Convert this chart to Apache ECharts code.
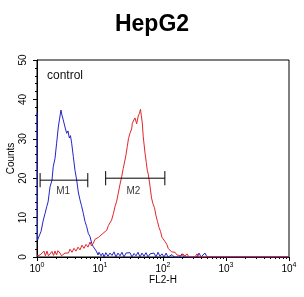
<!DOCTYPE html>
<html><head><meta charset="utf-8">
<script src="https://cdn.jsdelivr.net/npm/echarts@6/dist/echarts.min.js"></script>
<style>html,body{margin:0;padding:0;background:#fff}#c{width:304px;height:297px}</style>
</head><body><div id="c"></div>
<script>
// FL2-H channel values and counts
const blueX = [1.00,1.02,1.08,1.16,1.26,1.34,1.43,1.50,1.61,1.73,1.81,1.93,2.05,2.18,2.28,2.40,2.49,2.61,2.78,2.96,3.10,3.26,3.40,3.55,3.77,4.01,4.27,4.52,4.81,5.09,5.43,5.78,6.15,6.52,6.94,7.38,7.83,8.33,8.87,9.30,
  9.64,10.4,11.0,11.6,12.4,13.4,14.4,15.5,16.7,17.9,19.3,20.8,22.3,24.0,25.9,27.8,29.9,32.2,34.7,37.3,40.1,43.2,46.4,49.9,53.7,57.8,62.2,66.9,72.0,77.4,83.3,89.6,96.4,104,112,120,139,150,186,200,215,347,373,401,464,499,10000];
const blueY = [36.5,4.3,4.0,6.5,9.4,11.0,12.8,14.0,17.8,19.5,22.9,25.0,28.9,33.0,35.0,37.3,36.0,34.8,33.0,31.4,32.0,30.2,30.8,28.9,25.5,22.0,19.5,16.5,14.5,13.0,11.1,9.0,7.7,6.0,5.2,3.5,2.6,2.0,1.3,0.5,
  1.2,0.3,1.0,0,1.1,0.2,1.0,0.4,1.3,0,1.0,0.3,1.2,0,1.0,0.5,1.1,0,0.9,0.3,1.2,0,1.0,0.2,1.1,0,0.8,0.3,1.0,0,1.2,0.2,0.8,0,1.0,0,0.6,0,0,0.8,0,0,1.0,0,1.0,0,0];
const redX = [1.00,1.12,1.20,1.29,1.36,1.44,1.52,1.61,1.73,1.83,1.93,2.04,2.15,2.32,2.45,2.59,2.78,2.99,3.16,3.34,3.59,3.87,4.16,4.48,4.81,5.18,5.57,5.99,6.45,6.94,7.33,7.83,8.33,8.96,9.47,
  10.0,10.8,11.6,12.8,13.6,14.4,15.3,16.3,17.3,18.3,19.5,20.8,22.1,23.4,24.9,25.9,27.1,28.3,29.9,31.8,32.6,33.8,35.9,38.2,40.5,42.4,43.9,45.2,46.9,48.6,51.8,54.3,56.3,58.4,
  62.2,65.7,69.3,73.3,77.4,81.8,86.4,91.3,96.4,102,108,115,121,129,137,144,155,167,179,193,208,223,240,259,322,347,373,10000];
const redY = [0.3,0.5,0.3,1.5,0.3,1.5,0.3,0.5,1.4,0.4,1.5,0.5,1.6,1.0,0.3,0.8,1.0,1.5,1.0,2.0,1.2,2.2,1.5,2.5,1.8,3.0,2.2,3.2,2.5,3.8,2.8,3.5,4.5,4.0,5.0,
  5.2,5.8,6.2,6.8,8.0,8.5,9.4,11.0,12.8,14.0,16.2,18.5,20.4,22.5,24.6,26.0,28.0,30.0,31.4,32.5,33.9,34.5,35.3,33.8,35.8,36.5,37.5,36.0,34.0,30.5,26.4,24.0,22.0,21.0,
  18.0,15.0,13.5,12.5,10.5,9.0,7.5,6.5,5.0,4.5,3.9,3.2,2.2,1.8,1.3,0.8,1.2,0.5,1.0,0.3,0.8,0.2,0.8,0,0,0.8,0,0];
// Marker gates
const gateNames = ['M1','M2'];
const gateStart = [1.12, 12.3];
const gateEnd = [6.4, 107];
const gateLevel = [19.5, 20.0];
const gateLabelX = [2.6, 34];
const gateLabelY = [16.8, 16.8];
const capHalf = 1.8;
const yTicks = [0,10,20,30,40,50];

const series = [
  {type:'line', data: blueX.map((x,i)=>[x,blueY[i]]), symbol:'none', lineStyle:{color:'#2424c8', width:1}, animation:false, z:2},
  {type:'line', data: redX.map((x,i)=>[x,redY[i]]), symbol:'none', lineStyle:{color:'#e0262a', width:1}, animation:false, z:3}
];
gateNames.forEach((n,i)=>{
  const segs = [
    [[gateStart[i],gateLevel[i]],[gateEnd[i],gateLevel[i]]],
    [[gateStart[i],gateLevel[i]-capHalf],[gateStart[i],gateLevel[i]+capHalf]],
    [[gateEnd[i],gateLevel[i]-capHalf],[gateEnd[i],gateLevel[i]+capHalf]]
  ];
  segs.forEach(s=>series.push({type:'line', data:s, symbol:'none', lineStyle:{color:'#000', width:1}, animation:false, z:4}));
  series.push({type:'scatter', data:[[gateLabelX[i],gateLabelY[i]]], symbolSize:0, animation:false,
    label:{show:true, position:'inside', formatter:n, color:'#000', fontSize:10, fontFamily:'Liberation Sans'}});
});

const chart = echarts.init(document.getElementById('c'), null, {renderer:'canvas'});
chart.setOption({
  animation:false,
  title:{text:'HepG2', left:'center', top:8, textStyle:{fontFamily:'Liberation Sans', fontWeight:'bold', fontSize:23, color:'#000'}},
  grid:{left:37, right:15, top:60, bottom:40, containLabel:false, outerBoundsMode:'none', show:true, borderColor:'#000', borderWidth:1, backgroundColor:'#fff'},
  xAxis:{type:'log', logBase:10, min:1, max:10000, name:'FL2-H', nameLocation:'middle', nameGap:18, nameMoveOverlap:false,
    nameTextStyle:{fontFamily:'Liberation Sans', fontSize:10, color:'#000'},
    axisLine:{show:true, lineStyle:{color:'#000', width:1}},
    axisTick:{show:true, inside:false, length:4, lineStyle:{color:'#000'}},
    minorTick:{show:true, splitNumber:9, length:2, lineStyle:{color:'#000'}},
    splitLine:{show:false},
    axisLabel:{margin:5, color:'#000', fontFamily:'Liberation Sans', fontSize:10,
      formatter:v=>'10{s|'+Math.round(Math.log10(v))+'}',
      rich:{s:{fontSize:7, fontFamily:'Liberation Sans', color:'#000', padding:[0,0,7,0]}}}},
  yAxis:{type:'value', min:0, max:50, interval:10, name:'Counts', nameLocation:'middle', nameGap:21, nameMoveOverlap:false,
    nameTextStyle:{fontFamily:'Liberation Sans', fontSize:10, color:'#000'},
    axisLine:{show:true, lineStyle:{color:'#000', width:1}},
    axisTick:{show:true, inside:false, length:4, lineStyle:{color:'#000'}},
    minorTick:{show:true, splitNumber:5, length:2, lineStyle:{color:'#000'}},
    splitLine:{show:false},
    axisLabel:{rotate:90, margin:9, color:'#000', fontFamily:'Liberation Sans', fontSize:10,
      formatter:v=>yTicks.includes(v)?String(v):''}},
  graphic:[{type:'text', left:47, top:70, style:{text:'control', fontFamily:'Liberation Sans', fontSize:12, fill:'#111'}}],
  series: series
});
</script></body></html>
